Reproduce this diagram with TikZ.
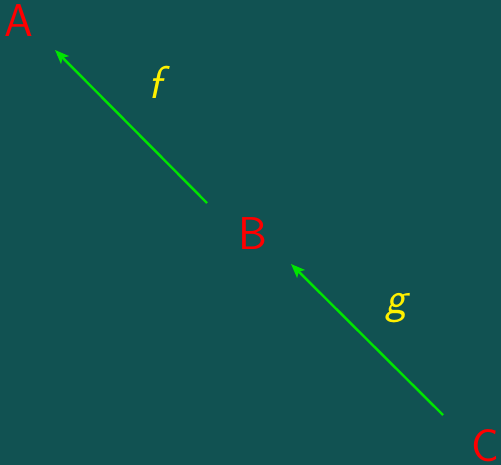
\documentclass[tikz,border=0pt]{standalone}
\usetikzlibrary{arrows.meta,calc}
\definecolor{bgteal}{RGB}{17,82,82}
\definecolor{arrgreen}{RGB}{0,228,0}
\definecolor{lblyellow}{RGB}{255,240,0}
\definecolor{ptred}{RGB}{255,0,0}
\tikzset{
  pt/.style={text=ptred,inner sep=0pt,font=\fontsize{46bp}{50bp}\selectfont\sffamily},
  lbl/.style={text=lblyellow,inner sep=0pt,font=\fontsize{46bp}{50bp}\selectfont\sffamily\itshape},
  arr/.style={draw=arrgreen,line width=2.4bp,-{Stealth[length=14bp,width=11bp,inset=3bp]}}
}
\begin{document}
\begin{tikzpicture}[x=1bp,y=-1bp]
\fill[bgteal] (0,0) rectangle (501,465);
\useasboundingbox (0,0) rectangle (501,465);
\node[pt] (A) at (19,21) {A};
\node[pt] (B) at (253,234) {B};
\node[pt] (C) at (485,446) {C};
\coordinate (b1) at ($(B)+(-46,-31)$);
\coordinate (a1) at ($(A)+(36,29)$);
\coordinate (c1) at ($(C)+(-42,-31)$);
\coordinate (b2) at ($(B)+(38,30)$);
\draw[arr] (b1) -- (a1);
\draw[arr] (c1) -- (b2);
\node[lbl] (f) at (155,82) {f};
\node[lbl] (g) at (396,308) {g};
\end{tikzpicture}
\end{document}
